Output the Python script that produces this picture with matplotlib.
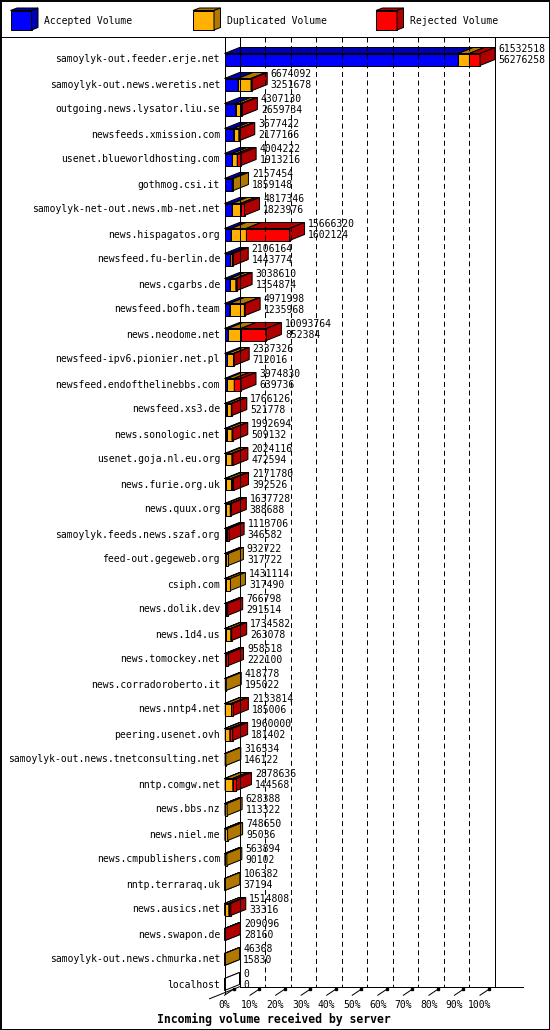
import matplotlib
matplotlib.use('Agg')
import matplotlib.pyplot as plt
from matplotlib.patches import Polygon

plt.rcParams['font.family'] = 'DejaVu Sans Mono'
plt.rcParams['lines.scale_dashes'] = False

# data, sorted by accepted volume
servers = ['samoylyk-out.feeder.erje.net', 'samoylyk-out.news.weretis.net',
           'outgoing.news.lysator.liu.se', 'newsfeeds.xmission.com',
           'usenet.blueworldhosting.com', 'gothmog.csi.it',
           'samoylyk-net-out.news.mb-net.net', 'news.hispagatos.org',
           'newsfeed.fu-berlin.de', 'news.cgarbs.de', 'newsfeed.bofh.team',
           'news.neodome.net', 'newsfeed-ipv6.pionier.net.pl',
           'newsfeed.endofthelinebbs.com', 'newsfeed.xs3.de',
           'news.sonologic.net', 'usenet.goja.nl.eu.org', 'news.furie.org.uk',
           'news.quux.org', 'samoylyk.feeds.news.szaf.org', 'feed-out.gegeweb.org',
           'csiph.com', 'news.dolik.dev', 'news.1d4.us', 'news.tomockey.net',
           'news.corradoroberto.it', 'news.nntp4.net', 'peering.usenet.ovh',
           'samoylyk-out.news.tnetconsulting.net', 'nntp.comgw.net',
           'news.bbs.nz', 'news.niel.me', 'news.cmpublishers.com',
           'nntp.terraraq.uk', 'news.ausics.net', 'news.swapon.de',
           'samoylyk-out.news.chmurka.net', 'localhost']
total = [61532518, 6674092, 4307130, 3677422, 4004222, 2157454, 4817346,
         15666320, 2106164, 3038610, 4971998, 10093764, 2337326, 3974830,
         1766126, 1992694, 2024116, 2171780, 1637728, 1113706, 932722,
         1431114, 766798, 1734582, 958518, 418778, 2133814, 1960000, 316534,
         2878636, 628388, 748650, 563894, 106382, 1514808, 209096, 46368, 0]
accepted = [56276258, 3251678, 2659734, 2177166, 1913216, 1859148, 1823976,
            1602124, 1443774, 1354874, 1235968, 852384, 712016, 639736,
            521778, 509132, 472594, 392526, 388688, 346582, 317722, 317490,
            291514, 263078, 222100, 195022, 185006, 181402, 146122, 144568,
            113322, 95036, 90102, 37194, 33316, 28160, 15830, 0]
duplicated = [2712000, 3130000, 1350000, 1270000, 1150000, 298306, 2050000,
              3670000, 400000, 1370000, 3550000, 3160000, 1450000, 1700000,
              1120000, 1290000, 1300000, 1300000, 1000000, 250000, 615000,
              1113624, 0, 1250000, 250000, 223756, 1500000, 1100000, 170412,
              1850000, 515066, 653614, 473792, 69188, 1000000, 0, 30538, 0]
rejected = [2544260, 292414, 297396, 230256, 941006, 0, 943370, 10394196,
            262390, 313736, 186030, 6081380, 175310, 1635094, 124348, 193562,
            251522, 479254, 249040, 517124, 0, 0, 475284, 221504, 486418, 0,
            448808, 678598, 0, 884068, 0, 0, 0, 0, 481492, 180936, 0, 0]
series = ['Accepted Volume', 'Duplicated Volume', 'Rejected Volume']
pct_ticks = list(range(0, 101, 10))

face = ['#0000ff', '#ffb000', '#ff0000']
dark = ['#0000b0', '#b07800', '#b00000']

W, H = 550, 1030
X0, XS = 224.5, 2.555      # pixel of 0 %, pixels per %
Y0, YS = 59.5, 25.0        # pixel of first row, pixels per row
DX, DY = 15 / XS, 6 / YS   # depth of the 3d effect
HH = 6 / YS                # half height of the bar front
LW = 0.72

fig = plt.figure(figsize=(W / 100, H / 100), dpi=100)
ax = fig.add_axes([0, 0, 1, 1])
ax.set_xlim(-X0 / XS, (W - X0) / XS)
ax.set_ylim((H - Y0) / YS, -Y0 / YS)
ax.axis('off')

n = len(servers)
vmax = max(total)
top_y = (37 - Y0) / YS
floor_f = n - 1 + 0.33
floor_b = floor_f - DY

# back wall and grid
for p in pct_ticks:
    if p in (0, 100):
        ax.plot([p + DX, p + DX], [top_y, floor_b], color='k', lw=LW)
    else:
        ax.plot([p + DX, p + DX], [top_y, floor_b], color='k', lw=LW,
                dashes=(3.6, 2.6))
ax.plot([0, 0], [top_y, floor_f], color='k', lw=LW)
ax.plot([DX, 116.8], [floor_b, floor_b], color='k', lw=LW)
ax.plot([-DX, DX], [floor_f + DY, floor_b], color='k', lw=LW)
for p in pct_ticks:
    ax.plot([p, p + DX * 0.6], [floor_f + 0.1, floor_b + 0.1], color='k', lw=LW)
    ax.plot([p + DX * 0.6], [floor_b + 0.1], marker='s', ms=2, color='k')
    ax.text(p, floor_f + 0.5, f'{p}%', ha='center', va='center', fontsize=7)


def box(x0, x1, y, fc, dc):
    t, b = y - HH, y + HH
    ax.add_patch(Polygon([(x0, t), (x1, t), (x1, b), (x0, b)],
                         fc=fc, ec='k', lw=LW))
    ax.add_patch(Polygon([(x0, t), (x1, t), (x1 + DX, t - DY), (x0 + DX, t - DY)],
                         fc=dc, ec='k', lw=LW))
    ax.add_patch(Polygon([(x1, t), (x1 + DX, t - DY), (x1 + DX, b - DY), (x1, b)],
                         fc=dc, ec='k', lw=LW))


for i, name in enumerate(servers):
    x = 0.0
    if total[i] == 0:
        box(0, 0, i, 'white', 'white')
    for j, vals in enumerate([accepted, duplicated, rejected]):
        w = vals[i] / vmax * 100
        if w > 0:
            box(x, x + w, i, face[j], dark[j])
        x += w
    ax.text(-1.76, i, name, ha='right', va='center', fontsize=7)
    lx = total[i] / vmax * 100 + DX + 3.5 / XS
    ax.text(lx, i - 0.42, str(total[i]), ha='left', va='center', fontsize=7)
    ax.text(lx, i + 0.02, str(accepted[i]), ha='left', va='center', fontsize=7)

# frame, legend and caption in pixel coordinates
ov = fig.add_axes([0, 0, 1, 1], facecolor='none')
ov.set_xlim(0, W)
ov.set_ylim(H, 0)
ov.axis('off')
ov.plot([0.5, W - 0.5, W - 0.5, 0.5, 0.5], [0.5, 0.5, H - 0.5, H - 0.5, 0.5],
        color='k', lw=1.4)
ov.plot([0, W], [37, 37], color='k', lw=LW)
for k, (lab, lx) in enumerate(zip(series, [10.5, 193, 376])):
    x0, x1, t, b, dx, dy = lx, lx + 21, 10.5, 30, 6.5, 2.5
    ov.add_patch(Polygon([(x0, t), (x1, t), (x1, b), (x0, b)], fc=face[k], ec='k', lw=LW))
    ov.add_patch(Polygon([(x0, t), (x1, t), (x1 + dx, t - dy), (x0 + dx, t - dy)],
                         fc=dark[k], ec='k', lw=LW))
    ov.add_patch(Polygon([(x1, t), (x1 + dx, t - dy), (x1 + dx, b - dy), (x1, b)],
                         fc=dark[k], ec='k', lw=LW))
    ov.text(x1 + 13, 21, lab, ha='left', va='center', fontsize=7)
ov.text(274, 1019, 'Incoming volume received by server', ha='center', va='center',
        fontsize=8.3, fontweight='bold')

fig.savefig('out.png', dpi=100)
